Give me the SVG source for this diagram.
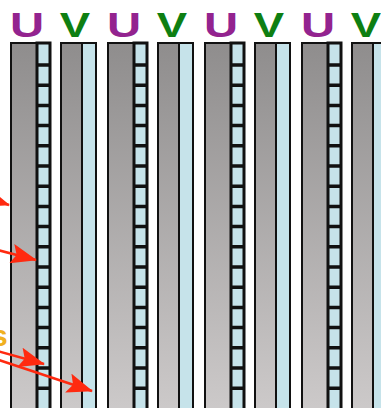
<svg xmlns="http://www.w3.org/2000/svg" width="381" height="408" viewBox="0 0 381 408">
  <defs>
    <linearGradient id="gray" x1="0" y1="0" x2="0" y2="1">
      <stop offset="0" stop-color="#8f8d8d"/>
      <stop offset="1" stop-color="#cdcaca"/>
    </linearGradient>
    <marker id="ah" markerUnits="userSpaceOnUse" markerWidth="26" markerHeight="20" viewBox="0 0 26 20" refX="25" refY="10" orient="auto">
      <path d="M0,0 L26,10 L0,20 L5,10 z" fill="#ff2a10"/>
    </marker>
  </defs>
  <style>
    .gray { fill: url(#gray); stroke: #111; stroke-width: 2; }
    .blue { fill: #c6e3ea; stroke: #111; stroke-width: 2; }
    .bluebold { fill: #c6e3ea; stroke: #111; stroke-width: 3; }
    .tick { stroke: #111; stroke-width: 3.5; }
    .lbl { font-family: "Liberation Sans", Arial, sans-serif; font-weight: bold; font-size: 35px; text-anchor: middle; }
    .u { fill: #93238f; }
    .v { fill: #0e7f12; }
    .arrow { stroke: #ff2a10; stroke-width: 2.5; fill: none; marker-end: url(#ah); }
    .s { font-family: "Liberation Sans", Arial, sans-serif; font-weight: bold; font-size: 30px; fill: #f0b020; }
  </style>
  <rect width="381" height="408" fill="#ffffff"/>

  <g id="col-u1">
    <rect class="gray" x="11" y="43" width="26" height="370"/>
    <rect class="bluebold" x="37" y="43" width="13" height="370"/>
    <path class="tick" d="M37,65h14M37,85.2h14M37,105.4h14M37,125.6h14M37,145.8h14M37,166h14M37,186.2h14M37,206.4h14M37,226.6h14M37,246.8h14M37,267h14M37,287.2h14M37,307.4h14M37,327.6h14M37,347.8h14M37,368h14M37,388.2h14"/>
    <text class="lbl u" transform="translate(27,37) scale(1.35,1)">U</text>
  </g>
  <g id="col-v1">
    <rect class="gray" x="61" y="43" width="21" height="370"/>
    <rect class="blue" x="82" y="43" width="14" height="370"/>
    <text class="lbl v" transform="translate(75,37) scale(1.3,1)">V</text>
  </g>

  <g id="col-u2">
    <rect class="gray" x="108" y="43" width="26" height="370"/>
    <rect class="bluebold" x="134" y="43" width="13" height="370"/>
    <path class="tick" d="M134,65h14M134,85.2h14M134,105.4h14M134,125.6h14M134,145.8h14M134,166h14M134,186.2h14M134,206.4h14M134,226.6h14M134,246.8h14M134,267h14M134,287.2h14M134,307.4h14M134,327.6h14M134,347.8h14M134,368h14M134,388.2h14"/>
    <text class="lbl u" transform="translate(124,37) scale(1.35,1)">U</text>
  </g>
  <g id="col-v2">
    <rect class="gray" x="158" y="43" width="21" height="370"/>
    <rect class="blue" x="179" y="43" width="14" height="370"/>
    <text class="lbl v" transform="translate(172,37) scale(1.3,1)">V</text>
  </g>

  <g id="col-u3">
    <rect class="gray" x="205" y="43" width="26" height="370"/>
    <rect class="bluebold" x="231" y="43" width="13" height="370"/>
    <path class="tick" d="M231,65h14M231,85.2h14M231,105.4h14M231,125.6h14M231,145.8h14M231,166h14M231,186.2h14M231,206.4h14M231,226.6h14M231,246.8h14M231,267h14M231,287.2h14M231,307.4h14M231,327.6h14M231,347.8h14M231,368h14M231,388.2h14"/>
    <text class="lbl u" transform="translate(221,37) scale(1.35,1)">U</text>
  </g>
  <g id="col-v3">
    <rect class="gray" x="255" y="43" width="21" height="370"/>
    <rect class="blue" x="276" y="43" width="14" height="370"/>
    <text class="lbl v" transform="translate(269,37) scale(1.3,1)">V</text>
  </g>

  <g id="col-u4">
    <rect class="gray" x="302" y="43" width="26" height="370"/>
    <rect class="bluebold" x="328" y="43" width="13" height="370"/>
    <path class="tick" d="M328,65h14M328,85.2h14M328,105.4h14M328,125.6h14M328,145.8h14M328,166h14M328,186.2h14M328,206.4h14M328,226.6h14M328,246.8h14M328,267h14M328,287.2h14M328,307.4h14M328,327.6h14M328,347.8h14M328,368h14M328,388.2h14"/>
    <text class="lbl u" transform="translate(318,37) scale(1.35,1)">U</text>
  </g>
  <g id="col-v4">
    <rect class="gray" x="352" y="43" width="21" height="370"/>
    <rect class="blue" x="373" y="43" width="14" height="370"/>
    <text class="lbl v" transform="translate(366,37) scale(1.3,1)">V</text>
  </g>

  <text class="s" x="-9" y="346">s</text>

  <g id="connectors">
    <path class="arrow" d="M-30,192 L9,205"/>
    <path class="arrow" d="M-10,248 L36,260"/>
    <path class="arrow" d="M-10,349 L44,364"/>
    <path class="arrow" d="M-10,357 L92,391"/>
  </g>
</svg>
